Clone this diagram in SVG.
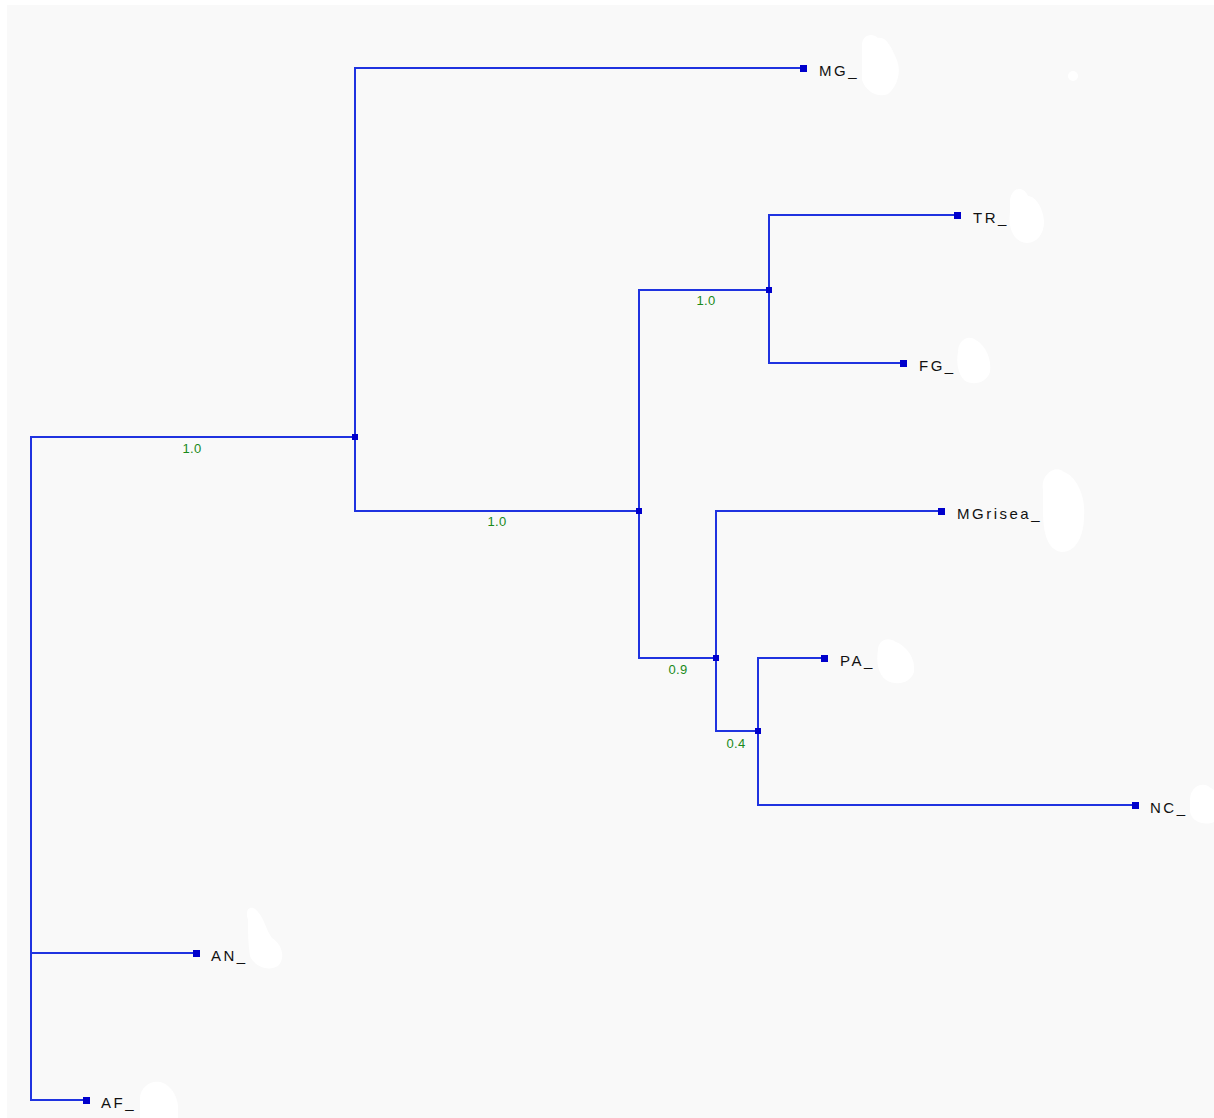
<svg xmlns="http://www.w3.org/2000/svg" width="1214" height="1118" viewBox="0 0 1214 1118">
<style>
.br{fill:none;stroke:#1f33e0;stroke-width:2;stroke-linecap:square}
.nd{fill:#0000cc}
.lb{font-family:"Liberation Sans",Arial,sans-serif;font-size:15px;letter-spacing:2.5px;fill:#111}
.bs{font-family:"Liberation Sans",Arial,sans-serif;font-size:13px;letter-spacing:0.3px;fill:#1a8a1a;text-anchor:middle}
.bl{fill:#ffffff}
</style>
<rect x="0" y="0" width="1214" height="1118" fill="#ffffff"/>
<rect x="7" y="5" width="1207" height="1113" fill="#f9f9f9"/>
<g id="connectors">
<path class="br" d="M355,437 H31 V1100 H86"/>
<path class="br" d="M31,953 H196"/>
<path class="br" d="M803,68 H355 V511 H639"/>
<path class="br" d="M769,290 H639 V658 H716"/>
<path class="br" d="M957,215 H769 V363 H903"/>
<path class="br" d="M941,511 H716 V731 H758"/>
<path class="br" d="M824,658 H758 V805 H1135"/>
</g>
<g id="blobs">
<path class="bl" d="M862,45 C862,35 872,32 878,38 C886,36 892,48 896,58 C902,70 898,86 888,94 C878,98 866,92 862,80 Z"/>
<ellipse class="bl" cx="1073" cy="76" rx="5" ry="5"/>
<path class="bl" d="M1010,200 C1012,186 1024,186 1028,196 C1036,196 1044,210 1044,222 C1044,236 1034,246 1022,242 C1012,238 1008,226 1010,212 Z"/>
<path class="bl" d="M958,352 C958,340 968,334 976,340 C986,346 992,360 990,372 C986,384 972,386 964,380 C958,374 956,362 958,352 Z"/>
<path class="bl" d="M1043,490 C1040,474 1056,464 1064,472 C1076,476 1086,496 1084,516 C1084,536 1076,552 1062,552 C1046,550 1043,530 1043,510 Z"/>
<path class="bl" d="M878,650 C878,640 888,636 896,642 C906,646 916,658 914,672 C910,684 896,686 886,680 C878,674 876,662 878,650 Z"/>
<path class="bl" d="M248,920 C244,908 252,904 258,912 C264,918 266,930 272,938 C282,944 286,958 278,966 C268,972 254,966 250,956 C248,944 248,932 248,920 Z"/>
<path class="bl" d="M140,1098 C140,1088 150,1080 160,1082 C170,1084 178,1096 178,1108 L178,1118 L140,1118 Z"/>
<path class="bl" d="M1190,800 C1190,788 1200,782 1208,786 L1214,790 L1214,822 C1204,826 1192,822 1190,812 Z"/>
</g>
<g id="n-root"><rect class="nd" x="352" y="434" width="6" height="6"/></g>
<g id="n-inner1"><rect class="nd" x="636" y="508" width="6" height="6"/></g>
<g id="n-inner2"><rect class="nd" x="766" y="287" width="6" height="6"/></g>
<g id="n-inner3"><rect class="nd" x="713" y="655" width="6" height="6"/></g>
<g id="n-inner4"><rect class="nd" x="755" y="728" width="6" height="6"/></g>
<g id="n-MG"><rect class="nd" x="800" y="65" width="7" height="7"/><text class="lb" x="819" y="76">MG_</text></g>
<g id="n-TR"><rect class="nd" x="954" y="212" width="7" height="7"/><text class="lb" x="973" y="223">TR_</text></g>
<g id="n-FG"><rect class="nd" x="900" y="360" width="7" height="7"/><text class="lb" x="919" y="371">FG_</text></g>
<g id="n-MGrisea"><rect class="nd" x="938" y="508" width="7" height="7"/><text class="lb" x="957" y="519">MGrisea_</text></g>
<g id="n-PA"><rect class="nd" x="821" y="655" width="7" height="7"/><text class="lb" x="840" y="666">PA_</text></g>
<g id="n-NC"><rect class="nd" x="1132" y="802" width="7" height="7"/><text class="lb" x="1150" y="813">NC_</text></g>
<g id="n-AN"><rect class="nd" x="193" y="950" width="7" height="7"/><text class="lb" x="211" y="961">AN_</text></g>
<g id="n-AF"><rect class="nd" x="83" y="1097" width="7" height="7"/><text class="lb" x="101" y="1108">AF_</text></g>
<g id="support">
<text class="bs" x="192" y="453">1.0</text>
<text class="bs" x="497" y="526">1.0</text>
<text class="bs" x="706" y="305">1.0</text>
<text class="bs" x="678" y="674">0.9</text>
<text class="bs" x="736" y="748">0.4</text>
</g>
</svg>
